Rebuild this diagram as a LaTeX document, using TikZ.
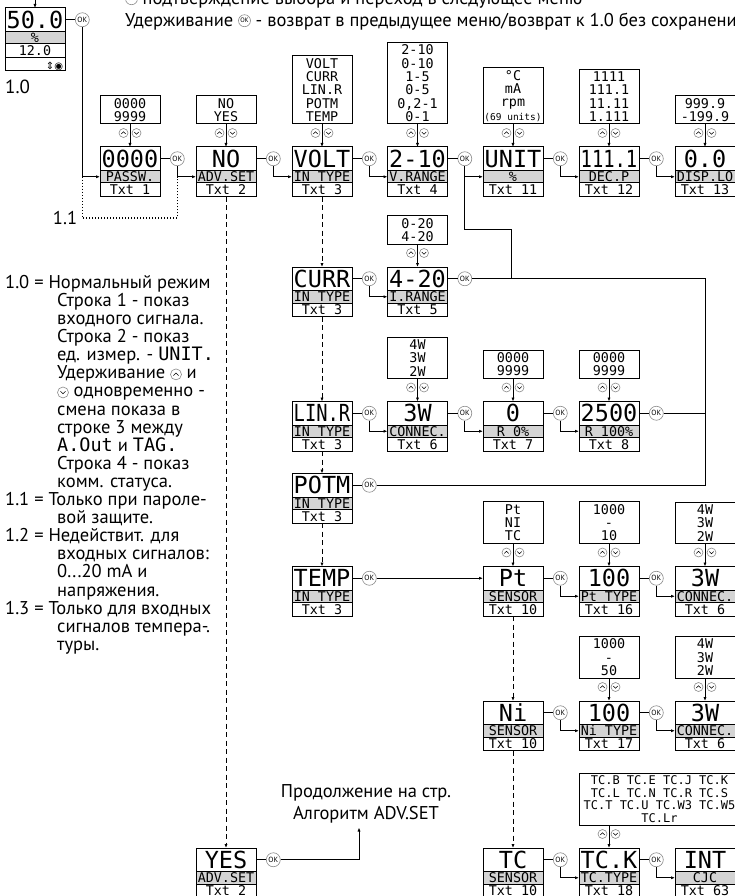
\documentclass[tikz,border=0pt]{standalone}
\usepackage{fontspec}
\setmainfont{PT Sans}
\newfontfamily\lcdfont{DejaVu Sans Mono}
\newfontfamily\symfont{DejaVu Sans}
\usepackage{graphicx}
\usetikzlibrary{arrows.meta,positioning,calc}
\definecolor{lcdgrey}{HTML}{D4D4D4}
\definecolor{keygrey}{HTML}{8A8A8A}
\newcommand\lcdbig{\lcdfont\fontsize{23.5}{24}\selectfont}
\newcommand\lcdsmall{\lcdfont\fontsize{13.4}{13.3}\selectfont}
\newcommand\squeeze[1]{\scalebox{0.8}[1]{#1}}
\tikzset{%
  lcdtop/.style={%
    draw,
    line width=1pt,
    fill=white,
    minimum width=60pt,
    minimum height=23.5pt,
    inner sep=0pt,
    outer sep=0pt,
    text height=17pt,
    text depth=0pt,
    font=\lcdbig
  },
  lcdmid/.style={lcdtop, fill=lcdgrey, minimum height=12.5pt, text height=9.8pt, font=\lcdsmall},
  lcdtxt/.style={lcdmid, fill=white, minimum height=13.5pt},
  optbox/.style={%
    draw,
    line width=1pt,
    fill=white,
    minimum width=60pt,
    inner xsep=1pt,
    inner ysep=2.5pt,
    align=center,
    font=\lcdsmall
  },
  okmark/.style={circle, draw=keygrey, line width=0.6pt, fill=white, minimum size=14pt, inner sep=0pt, font=\fontsize{7.5}{8}\selectfont},
  keyring/.style={draw=keygrey, line width=0.6pt, fill=white},
  flow/.style={line width=0.9pt},
  flowarrow/.style={flow, -{Latex[length=4pt,width=3.2pt]}},
  altarrow/.style={flowarrow, dash pattern=on 5pt off 3.5pt},
  skipline/.style={line width=1.1pt, dash pattern=on 1.2pt off 1.8pt},
  notetext/.style={inner sep=0pt, font=\fontsize{18.5}{18.1}\selectfont},
  updown/.pic={%
    \draw[keyring] (-6.5,0) circle[radius=4.5pt];
    \draw[keyring] (6.5,0) circle[radius=4.5pt];
    \draw[line width=0.5pt] (-8.7,1) -- (-6.5,-1.2) -- (-4.3,1);
    \draw[line width=0.5pt] (4.3,-1) -- (6.5,1.2) -- (8.7,-1);
  }
}
% one display: value, grey caption, text number
\newcommand\lcdbox[5]{%
  \node[lcdtop] (#1) at (#2) {#3};
  \node[lcdmid, below=0pt of #1] (#1-m) {#4};
  \node[lcdtxt, below=0pt of #1-m] (#1-t) {#5};
}
\newcommand\okicon{\tikz[baseline=-4pt]{\node[okmark, minimum size=12pt, font=\fontsize{6.5}{7}\selectfont] {OK};}}
\newcommand\keyupicon{\tikz[baseline=-4.5pt]{\draw[keyring] (0pt,0pt) circle[radius=5.5pt]; \draw[line width=0.5pt] (-2.6pt,-1.2pt) -- (0pt,1.3pt) -- (2.6pt,-1.2pt);}}
\newcommand\keydnicon{\tikz[baseline=-4.5pt]{\draw[keyring] (0pt,0pt) circle[radius=5.5pt]; \draw[line width=0.5pt] (-2.6pt,1.2pt) -- (0pt,-1.3pt) -- (2.6pt,1.2pt);}}

\begin{document}
\begin{tikzpicture}[x=1pt, y=-1pt]
    \useasboundingbox (0,0) rectangle (735,896);
    \clip (0,0) rectangle (735,896);

    % header lines
    \node[notetext, anchor=base west] (hdr1) at (125,5) {\okicon\ подтверждение выбора и переход в следующее меню};
    \node[notetext, anchor=base west] (hdr2) at (125,27) {Удерживание \okicon\ - возврат в предыдущее меню/возврат к 1.0 без сохранения.};

    % normal mode display
    \lcdbox{main}{35,19.75}{50.0}{\%}{12.0}
    \node[lcdtxt, below=0pt of main-t, text width=56pt, align=right, font=\symfont\fontsize{10}{10}\selectfont] (main-s) {⇕◉};
    \node[notetext, anchor=north west, font=\fontsize{19}{19}\selectfont] (lbl10) at ([yshift=-9pt]main-s.south west) {1.0};
    \coordinate (mainin) at (35,-2);
    \draw[flowarrow] (mainin) -- (main);

    % first row
    \lcdbox{passw}{130,158.75}{0000}{PASSW.}{Txt 1}
    \lcdbox{advset}{226,158.75}{NO}{ADV.SET}{Txt 2}
    \lcdbox{volt}{322,158.75}{VOLT}{IN TYPE}{Txt 3}
    \lcdbox{vrange}{417.5,158.75}{2-10}{V.RANGE}{Txt 4}
    \lcdbox{unit}{513,158.75}{UNIT}{\%}{Txt 11}
    \lcdbox{decp}{609,158.75}{\squeeze{111.1}}{DEC.P}{Txt 12}
    \lcdbox{displo}{705,158.75}{0.0}{DISP.LO}{Txt 13}

    % input types
    \lcdbox{curr}{322,278.75}{CURR}{IN TYPE}{Txt 3}
    \lcdbox{irange}{417.5,278.75}{4-20}{I.RANGE}{Txt 5}
    \lcdbox{linr}{322,413.25}{\squeeze{LIN.R}}{IN TYPE}{Txt 3}
    \lcdbox{connec}{417.5,413.25}{3W}{CONNEC.}{Txt 6}
    \lcdbox{rzero}{513,413.25}{0}{R 0\%}{Txt 7}
    \lcdbox{rfull}{609,413.25}{2500}{R 100\%}{Txt 8}
    \lcdbox{potm}{322,485.25}{POTM}{IN TYPE}{Txt 3}
    \lcdbox{temp}{322,578.25}{TEMP}{IN TYPE}{Txt 3}

    % sensors
    \lcdbox{sensor}{513,578.25}{Pt}{SENSOR}{Txt 10}
    \lcdbox{pttype}{609,578.25}{100}{Pt TYPE}{Txt 16}
    \lcdbox{ptconn}{705,578.25}{3W}{CONNEC.}{Txt 6}
    \lcdbox{ni}{513,712.75}{Ni}{SENSOR}{Txt 10}
    \lcdbox{nitype}{609,712.75}{100}{Ni TYPE}{Txt 17}
    \lcdbox{niconn}{705,712.75}{3W}{CONNEC.}{Txt 6}
    \lcdbox{tc}{513,859.75}{TC}{SENSOR}{Txt 10}
    \lcdbox{tctype}{609,859.75}{TC.K}{TC.TYPE}{Txt 18}
    \lcdbox{cjc}{705,859.75}{INT}{CJC}{Txt 63}
    \lcdbox{yes}{226,859.75}{YES}{ADV.SET}{Txt 2}

    % choices
    \node[optbox, above=22.5pt of passw] (passw-o) {0000\\9999};
    \node[optbox, above=22.5pt of advset] (advset-o) {NO\\YES};
    \node[optbox, above=22.5pt of volt] (volt-o) {VOLT\\CURR\\LIN.R\\POTM\\TEMP};
    \node[optbox, above=22.5pt of vrange] (vrange-o) {2-10\\0-10\\1-5\\0-5\\0,2-1\\0-1};
    \node[optbox, above=22.5pt of unit] (unit-o) {°C\\mA\\rpm\\{\fontsize{9.5}{13.3}\selectfont(69 units)}};
    \node[optbox, above=22.5pt of decp] (decp-o) {1111\\111.1\\11.11\\1.111};
    \node[optbox, above=22.5pt of displo] (displo-o) {999.9\\-199.9};
    \node[optbox, above=22.5pt of irange] (irange-o) {0-20\\4-20};
    \node[optbox, above=22.5pt of connec] (connec-o) {4W\\3W\\2W};
    \node[optbox, above=22.5pt of rzero] (rzero-o) {0000\\9999};
    \node[optbox, above=22.5pt of rfull] (rfull-o) {0000\\9999};
    \node[optbox, above=22.5pt of sensor] (sensor-o) {Pt\\NI\\TC};
    \node[optbox, above=22.5pt of pttype] (pttype-o) {1000\\-\\10};
    \node[optbox, above=22.5pt of ptconn] (ptconn-o) {4W\\3W\\2W};
    \node[optbox, above=22.5pt of nitype] (nitype-o) {1000\\-\\50};
    \node[optbox, above=22.5pt of niconn] (niconn-o) {4W\\3W\\2W};
    \node[optbox, anchor=south west, minimum width=160pt, font=\lcdfont\fontsize{12}{12.5}\selectfont] (tctype-o) at ([yshift=22.5pt]tctype.north west) {TC.B TC.E TC.J TC.K\\TC.L TC.N TC.R TC.S\\TC.T TC.U TC.W3 TC.W5\\TC.Lr};

    \foreach \b in {passw,advset,volt,vrange,unit,decp,displo,irange,connec,rzero,rfull,sensor,pttype,ptconn,nitype,niconn,tctype}{
      \draw[flowarrow] (\b-o.south -| \b.north) -- (\b.north);
      \pic at ([yshift=14pt]\b.north) {updown};
    }

    % OK keys
    \foreach \b in {main,passw,advset,volt,vrange,unit,decp,curr,irange,linr,connec,rzero,rfull,potm,temp,sensor,pttype,ni,nitype,tc,tctype,yes}{
      \node[okmark, right=10pt of \b] (\b-ok) {OK};
      \draw[flow] (\b) -- (\b-ok);
    }
    \foreach \a/\b in {main/passw,passw/advset,advset/volt,volt/vrange,vrange/unit,unit/decp,decp/displo,curr/irange,linr/connec,connec/rzero,rzero/rfull,sensor/pttype,pttype/ptconn,ni/nitype,nitype/niconn,tc/tctype,tctype/cjc}
      \draw[flowarrow] (\a-ok) |- (\b-m);

    % scrolling with up/down
    \foreach \a/\b in {advset/yes,volt/curr,curr/linr,linr/potm,potm/temp,sensor/ni,ni/tc}
      \draw[altarrow] (\a-t) -- (\b);

    % password skipped
    \coordinate (skipy) at (0,218);
    \path (main-ok |- skipy) coordinate (skipcorner);
    \draw[skipline] (main-ok |- passw-m) -- (skipcorner) -| (passw-ok |- advset-m);
    \node[notetext, left=5pt of skipcorner] (lbl11) {1.1};

    % back to normal mode
    \coordinate (bend) at (511,229);
    \coordinate (busx) at (705,0);
    \draw[flow] (vrange-ok) |- (bend) -- (bend |- irange-ok);
    \draw[flow] (irange-ok) -| (busx |- potm-ok) -- (potm-ok);
    \draw[flow] (rfull-ok) -- (rfull-ok -| busx);
    \draw[flowarrow] (temp-ok) -- (sensor);

    % advanced settings
    \node[notetext, align=center, font=\fontsize{18.5}{22}\selectfont] (advnext) at (366,804) {Продолжение на стр.\\Алгоритм ADV.SET};
    \draw[flowarrow] (yes-ok) -| ([xshift=-7pt,yshift=-4pt]advnext.south);

    % notes
    \node[notetext, anchor=north west, align=left] (notes) at (5,275) {%
      1.0 = Нормальный режим\\
      \hspace*{52pt}Строка 1 - показ\\
      \hspace*{52pt}входного сигнала.\\
      \hspace*{52pt}Строка 2 - показ\\
      \hspace*{52pt}ед. измер. - {\lcdfont UNIT.}\\
      \hspace*{52pt}Удерживание \keyupicon\ и\\
      \hspace*{52pt}\keydnicon\ одновременно -\\
      \hspace*{52pt}смена показа в\\
      \hspace*{52pt}строке 3 между\\
      \hspace*{52pt}{\lcdfont A.Out} и {\lcdfont TAG.}\\
      \hspace*{52pt}Строка 4 - показ\\
      \hspace*{52pt}комм. статуса.\\
      1.1 = Только при пароле-\\
      \hspace*{52pt}вой защите.\\
      1.2 = Недействит. для\\
      \hspace*{52pt}входных сигналов:\\
      \hspace*{52pt}0...20 mA и\\
      \hspace*{52pt}напряжения.\\
      1.3 = Только для входных\\
      \hspace*{52pt}сигналов темпера-.\\
      \hspace*{52pt}туры.};
\end{tikzpicture}
\end{document}
